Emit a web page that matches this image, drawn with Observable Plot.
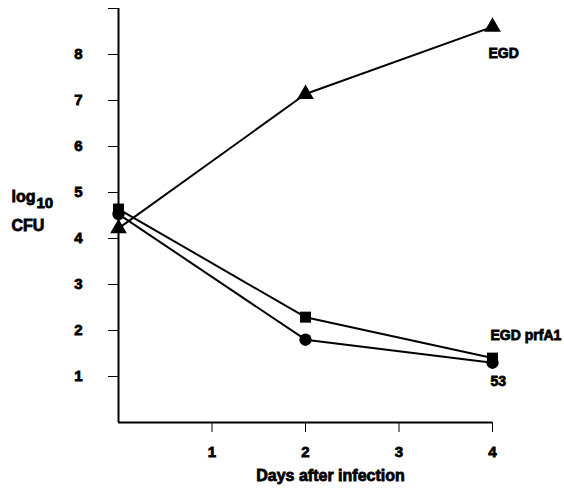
<!DOCTYPE html>
<html>
<head>
<meta charset="utf-8">
<script src="https://cdn.jsdelivr.net/npm/d3@7"></script>
<script src="https://cdn.jsdelivr.net/npm/@observablehq/plot@0.6"></script>
<style>
  html, body { margin: 0; padding: 0; background: #fff; }
  svg text { stroke: #000; stroke-width: 0.8px; paint-order: stroke; }
</style>
</head>
<body>
<div id="chart"></div>
<script>
const days = [0, 2, 4];
const seriesNames = ["EGD", "EGD prfA1", "53"];
const egd = [4.22, 7.14, 8.6];
const prfA1 = [4.64, 2.29, 1.4];
const strain53 = [4.53, 1.8, 1.3];
const xTicks = [1, 2, 3, 4];
const yTicks = [1, 2, 3, 4, 5, 6, 7, 8, 9];
const yTickLabels = ["1", "2", "3", "4", "5", "6", "7", "8", ""];
const xTitle = "Days after infection";

const seriesValues = [egd, prfA1, strain53];
const symbols = ["triangle", "square", "circle"];
const radii = [6.2, 6.2, 6.2];
const labelOffsets = [{dx: -4, dy: 27}, {dx: -2, dy: -23}, {dx: -2, dy: 19}];

const rows = [];
seriesNames.forEach((s, i) => days.forEach((d, j) => rows.push({series: s, day: d, value: seriesValues[i][j]})));
const ends = seriesNames.map((s, i) => ({series: s, day: days[days.length - 1], value: seriesValues[i][days.length - 1]}));

const font = "Liberation Sans, Arial, Helvetica, sans-serif";

const plot = Plot.plot({
  width: 564,
  height: 488,
  marginLeft: 118,
  marginRight: 72,
  marginTop: 8,
  marginBottom: 66,
  style: {fontFamily: font, fontWeight: "bold", fontSize: "15px", color: "#000", background: "#fff"},
  x: {domain: [0, 4], ticks: xTicks, tickSize: 10, tickPadding: 14, label: null, tickFormat: d => String(d)},
  y: {domain: [0, 9], ticks: yTicks, tickSize: 10, tickPadding: 26, label: null, tickFormat: d => yTickLabels[yTicks.indexOf(d)]},
  marks: [
    Plot.ruleX([0], {y1: 0, y2: 9, stroke: "#000", strokeWidth: 2}),
    Plot.ruleY([0], {x1: 0, x2: 4, stroke: "#000", strokeWidth: 2}),
    Plot.line(rows, {x: "day", y: "value", z: "series", stroke: "#000", strokeWidth: 2}),
    ...seriesNames.map((s, i) => Plot.dot(rows.filter(r => r.series === s), {x: "day", y: "value", symbol: symbols[i], r: radii[i], fill: "#000", stroke: "none"})),
    ...seriesNames.map((s, i) => Plot.text([ends[i]], {x: "day", y: "value", text: "series", textAnchor: "start", dx: labelOffsets[i].dx, dy: labelOffsets[i].dy, fontSize: 14, fill: "#000"})),
    Plot.text([xTitle], {frameAnchor: "bottom", text: d => d, dx: 25, dy: 58, fontSize: 16, fill: "#000"}),
    Plot.text(["log"], {frameAnchor: "left", text: d => d, textAnchor: "start", dx: -107, dy: -19, fontSize: 16, fill: "#000"}),
    Plot.text(["10"], {frameAnchor: "left", text: d => d, textAnchor: "start", dx: -82, dy: -12, fontSize: 15, fill: "#000"}),
    Plot.text(["CFU"], {frameAnchor: "left", text: d => d, textAnchor: "start", dx: -107, dy: 10, fontSize: 16, fill: "#000"})
  ]
});
document.getElementById("chart").appendChild(plot);
</script>
</body>
</html>
